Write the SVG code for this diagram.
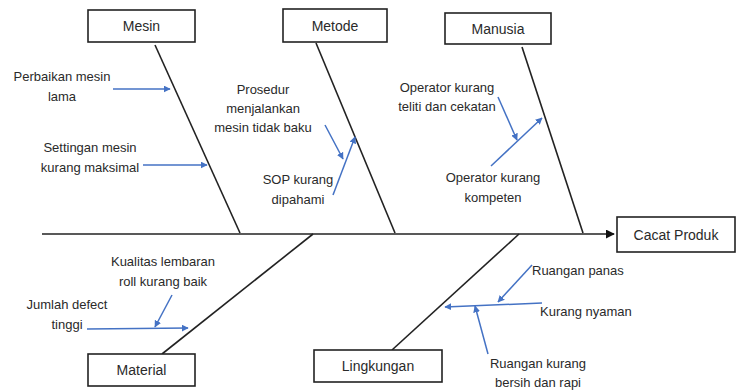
<svg xmlns="http://www.w3.org/2000/svg" width="738" height="390" viewBox="0 0 738 390">
<style>
.box{fill:#fff;stroke:#222;stroke-width:1.6}
.bone{stroke:#222;stroke-width:1.6;fill:none}
.cause{stroke:#4472C4;stroke-width:1.5;fill:none;marker-end:url(#ab)}
text{font-family:"Liberation Sans",Arial,sans-serif;fill:#2a2a2a}
.lbl{font-size:14px;text-anchor:middle}
.t{font-size:13px;text-anchor:middle}
.ts{font-size:13px;text-anchor:start}
</style>
<defs>
<marker id="ab" viewBox="0 0 10 10" refX="9" refY="5" markerWidth="7" markerHeight="7" markerUnits="userSpaceOnUse" orient="auto"><path d="M0,0 L10,5 L0,10 z" fill="#4472C4"/></marker>
<marker id="ak" viewBox="0 0 10 10" refX="9" refY="5" markerWidth="9" markerHeight="9" markerUnits="userSpaceOnUse" orient="auto"><path d="M0,0 L10,5 L0,10 z" fill="#111"/></marker>
</defs>
<g id="connectors">
<line class="bone" x1="42" y1="234" x2="614" y2="234" marker-end="url(#ak)"/>
<line class="bone" x1="155" y1="45" x2="240" y2="233"/>
<line class="bone" x1="316" y1="43" x2="395" y2="233"/>
<line class="bone" x1="522" y1="47" x2="583" y2="233"/>
<line class="bone" x1="313" y1="234" x2="162" y2="354"/>
<line class="bone" x1="519" y1="234" x2="392" y2="350"/>
<line class="cause" x1="113" y1="89" x2="170" y2="89"/>
<line class="cause" x1="143" y1="165" x2="207" y2="165"/>
<line class="cause" x1="325" y1="125" x2="343" y2="159"/>
<line class="cause" x1="333" y1="195" x2="355" y2="137"/>
<line class="cause" x1="498" y1="97" x2="517" y2="140"/>
<line class="cause" x1="491" y1="166" x2="542" y2="118"/>
<line class="cause" x1="172" y1="295" x2="155" y2="327"/>
<line class="cause" x1="87" y1="329" x2="188" y2="328"/>
<line class="cause" x1="542" y1="303" x2="445" y2="307"/>
<line class="cause" x1="532" y1="265" x2="498" y2="302"/>
<line class="cause" x1="488" y1="354" x2="475" y2="306"/>
</g>
<g id="mesin"><rect class="box" x="88" y="10" width="107" height="32"/><text class="lbl" x="141.5" y="31">Mesin</text></g>
<g id="metode"><rect class="box" x="283" y="9" width="104" height="33"/><text class="lbl" x="335" y="30.5">Metode</text></g>
<g id="manusia"><rect class="box" x="445" y="13" width="106" height="31"/><text class="lbl" x="498" y="33.5">Manusia</text></g>
<g id="cacat-produk"><rect class="box" x="617" y="217" width="118" height="35"/><text class="lbl" x="676" y="239.5">Cacat Produk</text></g>
<g id="material"><rect class="box" x="88" y="354" width="107" height="32"/><text class="lbl" x="141.5" y="375">Material</text></g>
<g id="lingkungan"><rect class="box" x="314" y="350" width="128" height="32"/><text class="lbl" x="378" y="371">Lingkungan</text></g>
<g id="perbaikan"><text class="t" x="62" y="81">Perbaikan mesin</text><text class="t" x="62" y="101">lama</text></g>
<g id="settingan"><text class="t" x="90" y="152">Settingan mesin</text><text class="t" x="90" y="172">kurang maksimal</text></g>
<g id="prosedur"><text class="t" x="263" y="94">Prosedur</text><text class="t" x="263" y="113">menjalankan</text><text class="t" x="263" y="132">mesin tidak baku</text></g>
<g id="sop"><text class="t" x="298" y="184">SOP kurang</text><text class="t" x="298" y="204">dipahami</text></g>
<g id="teliti"><text class="t" x="447" y="92">Operator kurang</text><text class="t" x="447" y="111">teliti dan cekatan</text></g>
<g id="kompeten"><text class="t" x="493" y="182">Operator kurang</text><text class="t" x="493" y="202">kompeten</text></g>
<g id="kualitas"><text class="t" x="163" y="266">Kualitas lembaran</text><text class="t" x="163" y="286">roll kurang baik</text></g>
<g id="jumlah"><text class="t" x="67" y="309">Jumlah defect</text><text class="t" x="67" y="329">tinggi</text></g>
<g id="panas"><text class="ts" x="532" y="275">Ruangan panas</text></g>
<g id="nyaman"><text class="ts" x="540" y="316">Kurang nyaman</text></g>
<g id="bersih"><text class="t" x="538" y="368">Ruangan kurang</text><text class="t" x="538" y="387">bersih dan rapi</text></g>
</svg>
